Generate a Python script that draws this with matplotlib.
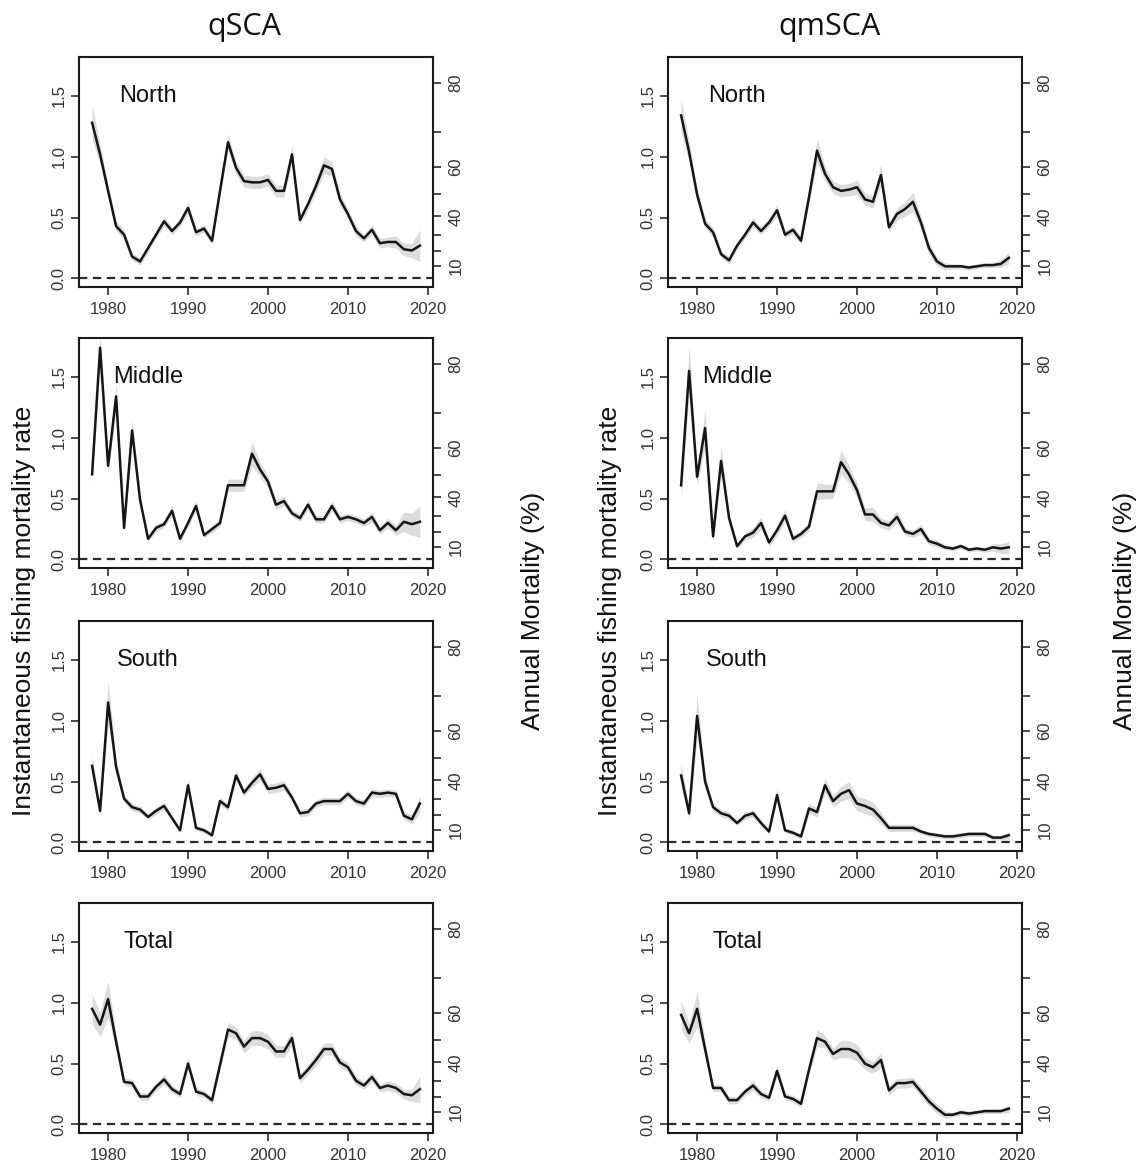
import numpy as np
import matplotlib
matplotlib.use("Agg")
import matplotlib.pyplot as plt

plt.rcParams["font.family"] = ["Liberation Sans", "DejaVu Sans"]
plt.rcParams["lines.scale_dashes"] = False

years = np.arange(1978, 2020)

models = ["qSCA", "qmSCA"]
regions = ["North", "Middle", "South", "Total"]

# Estimated instantaneous fishing mortality (F) by region and model
north_qsca = [1.28, 1.02, 0.72, 0.43, 0.36, 0.18, 0.14, 0.25, 0.36, 0.47, 0.39, 0.46, 0.58, 0.38,
              0.41, 0.31, 0.72, 1.12, 0.91, 0.80, 0.79, 0.79, 0.81, 0.72, 0.72, 1.02, 0.48, 0.61,
              0.76, 0.93, 0.90, 0.65, 0.53, 0.39, 0.33, 0.40, 0.29, 0.30, 0.30, 0.24, 0.23, 0.27]
north_qmsca = [1.34, 1.04, 0.69, 0.45, 0.38, 0.20, 0.15, 0.27, 0.36, 0.46, 0.39, 0.46, 0.56, 0.36,
               0.40, 0.31, 0.67, 1.05, 0.86, 0.75, 0.72, 0.73, 0.75, 0.65, 0.63, 0.85, 0.42, 0.53,
               0.57, 0.63, 0.46, 0.25, 0.14, 0.10, 0.10, 0.10, 0.09, 0.10, 0.11, 0.11, 0.12, 0.17]
middle_qsca = [0.70, 1.74, 0.77, 1.34, 0.26, 1.06, 0.49, 0.17, 0.26, 0.29, 0.40, 0.17, 0.30, 0.44,
               0.20, 0.25, 0.30, 0.61, 0.61, 0.61, 0.87, 0.74, 0.64, 0.45, 0.48, 0.38, 0.34, 0.45,
               0.33, 0.33, 0.44, 0.33, 0.35, 0.33, 0.30, 0.35, 0.24, 0.30, 0.24, 0.31, 0.29, 0.31]
middle_qmsca = [0.61, 1.55, 0.68, 1.08, 0.19, 0.81, 0.34, 0.11, 0.19, 0.22, 0.30, 0.14, 0.24, 0.36,
                0.17, 0.21, 0.27, 0.56, 0.56, 0.56, 0.80, 0.70, 0.57, 0.37, 0.37, 0.30, 0.28, 0.35,
                0.23, 0.21, 0.25, 0.15, 0.13, 0.10, 0.09, 0.11, 0.08, 0.09, 0.08, 0.10, 0.09, 0.10]
south_qsca = [0.63, 0.26, 1.15, 0.62, 0.36, 0.29, 0.27, 0.21, 0.26, 0.30, 0.20, 0.10, 0.47, 0.12,
              0.10, 0.06, 0.34, 0.29, 0.55, 0.41, 0.49, 0.56, 0.44, 0.45, 0.47, 0.37, 0.24, 0.25,
              0.32, 0.34, 0.34, 0.34, 0.40, 0.34, 0.32, 0.41, 0.40, 0.41, 0.40, 0.22, 0.19, 0.32]
south_qmsca = [0.55, 0.24, 1.04, 0.50, 0.29, 0.24, 0.22, 0.16, 0.22, 0.24, 0.16, 0.09, 0.39, 0.10,
               0.08, 0.05, 0.28, 0.25, 0.47, 0.34, 0.40, 0.43, 0.32, 0.30, 0.27, 0.20, 0.12, 0.12,
               0.12, 0.12, 0.09, 0.07, 0.06, 0.05, 0.05, 0.06, 0.07, 0.07, 0.07, 0.04, 0.04, 0.06]
total_qsca = [0.95, 0.82, 1.03, 0.68, 0.35, 0.34, 0.23, 0.23, 0.31, 0.37, 0.29, 0.25, 0.50, 0.27,
              0.25, 0.20, 0.49, 0.78, 0.75, 0.64, 0.71, 0.71, 0.68, 0.60, 0.60, 0.71, 0.38, 0.45,
              0.53, 0.62, 0.62, 0.51, 0.47, 0.36, 0.32, 0.39, 0.30, 0.32, 0.30, 0.25, 0.24, 0.29]
total_qmsca = [0.90, 0.75, 0.95, 0.62, 0.30, 0.30, 0.20, 0.20, 0.27, 0.32, 0.25, 0.22, 0.44, 0.23,
               0.21, 0.17, 0.45, 0.71, 0.68, 0.58, 0.62, 0.62, 0.59, 0.50, 0.47, 0.53, 0.28, 0.34,
               0.34, 0.35, 0.27, 0.19, 0.13, 0.08, 0.08, 0.10, 0.09, 0.10, 0.11, 0.11, 0.11, 0.13]

# Half-width of the confidence band around each F estimate
north_qsca_hw = [0.14, 0.08, 0.05, 0.04, 0.04, 0.03, 0.03, 0.03, 0.03, 0.04, 0.03, 0.03, 0.05, 0.03,
                 0.03, 0.03, 0.04, 0.07, 0.05, 0.05, 0.05, 0.05, 0.05, 0.05, 0.05, 0.07, 0.04, 0.04,
                 0.05, 0.07, 0.06, 0.05, 0.04, 0.04, 0.03, 0.04, 0.04, 0.04, 0.05, 0.05, 0.06, 0.13]
north_qmsca_hw = [0.14, 0.08, 0.05, 0.04, 0.04, 0.03, 0.03, 0.03, 0.03, 0.04, 0.03, 0.03, 0.05, 0.03,
                  0.03, 0.03, 0.05, 0.10, 0.06, 0.05, 0.05, 0.05, 0.06, 0.05, 0.05, 0.09, 0.04, 0.05,
                  0.06, 0.08, 0.05, 0.05, 0.04, 0.03, 0.02, 0.02, 0.02, 0.02, 0.02, 0.02, 0.03, 0.05]
middle_qsca_hw = [0.08, 0.10, 0.06, 0.10, 0.03, 0.09, 0.04, 0.02, 0.03, 0.03, 0.04, 0.02, 0.03, 0.04,
                  0.02, 0.03, 0.03, 0.05, 0.05, 0.05, 0.10, 0.06, 0.05, 0.04, 0.04, 0.03, 0.03, 0.04,
                  0.03, 0.03, 0.04, 0.03, 0.03, 0.03, 0.03, 0.04, 0.03, 0.04, 0.04, 0.08, 0.09, 0.13]
middle_qmsca_hw = [0.10, 0.20, 0.07, 0.15, 0.03, 0.12, 0.04, 0.02, 0.03, 0.04, 0.05, 0.03, 0.04, 0.05,
                   0.03, 0.03, 0.04, 0.07, 0.06, 0.06, 0.10, 0.07, 0.06, 0.05, 0.06, 0.04, 0.04, 0.05,
                   0.03, 0.03, 0.04, 0.03, 0.03, 0.02, 0.02, 0.02, 0.02, 0.02, 0.02, 0.03, 0.04, 0.05]
south_qsca_hw = [0.08, 0.04, 0.18, 0.06, 0.03, 0.03, 0.03, 0.02, 0.03, 0.03, 0.02, 0.02, 0.05, 0.02,
                 0.02, 0.02, 0.03, 0.03, 0.04, 0.03, 0.04, 0.05, 0.04, 0.04, 0.04, 0.03, 0.03, 0.03,
                 0.03, 0.03, 0.03, 0.03, 0.03, 0.03, 0.03, 0.03, 0.03, 0.03, 0.03, 0.03, 0.04, 0.07]
south_qmsca_hw = [0.10, 0.04, 0.18, 0.06, 0.03, 0.03, 0.03, 0.02, 0.03, 0.03, 0.02, 0.02, 0.05, 0.02,
                  0.02, 0.02, 0.04, 0.04, 0.06, 0.05, 0.06, 0.07, 0.06, 0.06, 0.06, 0.05, 0.03, 0.03,
                  0.03, 0.03, 0.02, 0.02, 0.02, 0.02, 0.02, 0.02, 0.02, 0.02, 0.02, 0.02, 0.02, 0.03]
total_qsca_hw = [0.12, 0.10, 0.15, 0.06, 0.03, 0.03, 0.03, 0.03, 0.03, 0.04, 0.03, 0.03, 0.05, 0.03,
                 0.03, 0.03, 0.04, 0.06, 0.05, 0.05, 0.06, 0.06, 0.06, 0.05, 0.05, 0.06, 0.04, 0.04,
                 0.05, 0.05, 0.05, 0.04, 0.04, 0.04, 0.03, 0.04, 0.03, 0.04, 0.04, 0.04, 0.05, 0.11]
total_qmsca_hw = [0.12, 0.08, 0.15, 0.06, 0.03, 0.03, 0.03, 0.03, 0.03, 0.04, 0.03, 0.03, 0.05, 0.03,
                  0.03, 0.03, 0.04, 0.07, 0.05, 0.05, 0.07, 0.07, 0.07, 0.05, 0.05, 0.06, 0.04, 0.04,
                  0.04, 0.04, 0.04, 0.04, 0.04, 0.03, 0.02, 0.02, 0.02, 0.02, 0.02, 0.02, 0.02, 0.03]

series = {
    ("North", "qSCA"): (north_qsca, north_qsca_hw),
    ("North", "qmSCA"): (north_qmsca, north_qmsca_hw),
    ("Middle", "qSCA"): (middle_qsca, middle_qsca_hw),
    ("Middle", "qmSCA"): (middle_qmsca, middle_qmsca_hw),
    ("South", "qSCA"): (south_qsca, south_qsca_hw),
    ("South", "qmSCA"): (south_qmsca, south_qmsca_hw),
    ("Total", "qSCA"): (total_qsca, total_qsca_hw),
    ("Total", "qmSCA"): (total_qmsca, total_qmsca_hw),
}

f_ticks = [0.0, 0.5, 1.0, 1.5]
f_ticklabels = ["0.0", "0.5", "1.0", "1.5"]
pct_ticks = [10, 20, 30, 40, 50, 60, 70, 80]
pct_ticklabels = ["10", "", "", "40", "", "60", "", "80"]
year_ticks = [1980, 1990, 2000, 2010, 2020]

W, H = 1141, 1162
fig = plt.figure(figsize=(W / 100, H / 100), dpi=100)

col_left = [79, 668]
col_width = 354
row_top = [57, 338, 621, 903]
row_height = 230

frame_col = "#1a1a1a"
tick_col = "#333333"
tick_fs = 12

for ci, model in enumerate(models):
    for ri, region in enumerate(regions):
        x0 = col_left[ci]
        top = row_top[ri]
        ax = fig.add_axes([x0 / W, 1 - (top + row_height) / H, col_width / W, row_height / H])
        f_est, hw = series[(region, model)]
        f_est = np.asarray(f_est)
        hw = np.asarray(hw)

        ax.fill_between(years, f_est - hw, f_est + hw, color="#dcdcdc", lw=0, zorder=1)
        ax.plot(years, f_est, color="#151515", lw=1.8, zorder=3)
        ax.axhline(0, color="#2a2a2a", lw=1.6, dashes=(6, 4), zorder=2)

        ax.set_xlim(1976.36, 2020.64)
        ax.set_ylim(-0.07, 1.82)
        ax.set_xticks(year_ticks)
        ax.set_yticks(f_ticks)
        ax.set_yticklabels(f_ticklabels)
        ax.tick_params(axis="both", direction="out", length=6, width=1.1, color=frame_col,
                       labelcolor=tick_col, labelsize=tick_fs)
        ax.tick_params(axis="x", pad=5)
        ax.tick_params(axis="y", labelrotation=90, pad=3)
        for lab in ax.get_yticklabels():
            lab.set_verticalalignment("center")
        for sp in ax.spines.values():
            sp.set_linewidth(1.5)
            sp.set_color(frame_col)

        ax.text(1985, 1.5, region, ha="center", va="center", fontsize=17, color="#111111")

        # Right-hand axis: annual mortality (%) = 1 - exp(-F)
        ax2 = ax.twinx()
        ax2.set_ylim(ax.get_ylim())
        ax2.set_yticks([-np.log(1 - p / 100.0) for p in pct_ticks])
        ax2.set_yticklabels(pct_ticklabels)
        ax2.tick_params(axis="y", direction="out", length=6, width=1.1, color=frame_col,
                        labelcolor=tick_col, labelsize=tick_fs, labelrotation=90, pad=5)
        for lab in ax2.get_yticklabels():
            lab.set_verticalalignment("center")
        for sp in ax2.spines.values():
            sp.set_visible(False)

# Column titles
fig.text(244 / W, 1 - 35 / H, "qSCA", ha="center", va="baseline", fontsize=22,
         family=["Open Sans", "DejaVu Sans"], color="#111111")
fig.text(830 / W, 1 - 35 / H, "qmSCA", ha="center", va="baseline", fontsize=22,
         family=["Open Sans", "DejaVu Sans"], color="#111111")

# Shared axis titles
label_y = 1 - 611 / H
for xpix in (24, 610):
    fig.text(xpix / W, label_y, "Instantaneous fishing mortality rate", rotation=90,
             ha="center", va="center", fontsize=19, color="#111111")
for xpix in (533, 1125):
    fig.text(xpix / W, label_y, "Annual Mortality (%)", rotation=90,
             ha="center", va="center", fontsize=19, color="#111111")

fig.savefig("out.png", dpi=100, facecolor="white")
